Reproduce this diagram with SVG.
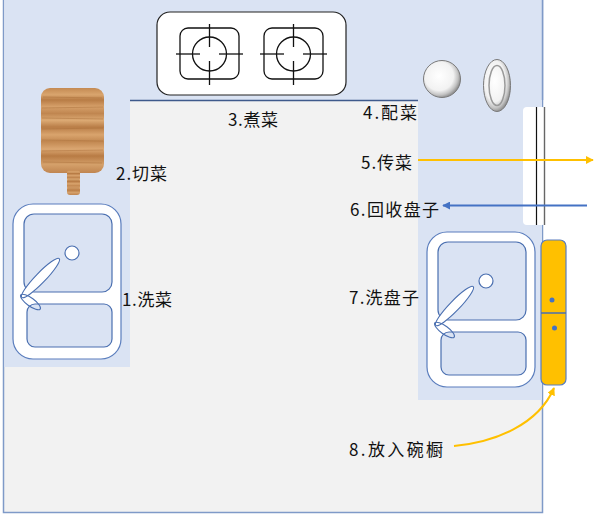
<svg xmlns="http://www.w3.org/2000/svg" width="600" height="527" viewBox="0 0 600 527">
<style>
.lbl{font-family:"Noto Sans CJK SC","Liberation Sans",sans-serif;font-size:17px;fill:#111}
.sinkout{fill:#fff;stroke:#5a7dbd;stroke-width:1.2}
.basin{fill:#dae3f3;stroke:#4a6fb0;stroke-width:1.2}
.burner{fill:none;stroke:#111;stroke-width:1.3}
</style>
<defs>
<linearGradient id="wood" x1="0" y1="0" x2="0" y2="1">
<stop offset="0" stop-color="#c48a52"/>
<stop offset="0.08" stop-color="#d9a56e"/>
<stop offset="0.14" stop-color="#b87c45"/>
<stop offset="0.22" stop-color="#d6a06a"/>
<stop offset="0.3" stop-color="#c08650"/>
<stop offset="0.38" stop-color="#dcaa74"/>
<stop offset="0.46" stop-color="#b97d47"/>
<stop offset="0.55" stop-color="#d9a46d"/>
<stop offset="0.63" stop-color="#c28851"/>
<stop offset="0.72" stop-color="#dba772"/>
<stop offset="0.8" stop-color="#b87b44"/>
<stop offset="0.9" stop-color="#d4a06a"/>
<stop offset="1" stop-color="#c08550"/>
</linearGradient>
<radialGradient id="plate" cx="0.42" cy="0.42" r="0.6">
<stop offset="0" stop-color="#ffffff"/>
<stop offset="0.65" stop-color="#f2f2f2"/>
<stop offset="0.85" stop-color="#c4c4c4"/>
<stop offset="1" stop-color="#8c8c8c"/>
</radialGradient>
<marker id="arrO" viewBox="0 0 10 10" refX="9" refY="5" markerWidth="4" markerHeight="4" orient="auto" markerUnits="strokeWidth">
<path d="M0,0 L10,5 L0,10 Z" fill="#ffc000"/>
</marker>
<marker id="arrB" viewBox="0 0 10 10" refX="9" refY="5" markerWidth="4" markerHeight="4" orient="auto" markerUnits="strokeWidth">
<path d="M0,0 L10,5 L0,10 Z" fill="#4472c4"/>
</marker>
<filter id="sh" x="-5%" y="-50%" width="110%" height="300%">
<feGaussianBlur stdDeviation="1.2"/>
</filter>
<g id="sink">
<rect class="sinkout" x="13" y="204" width="108" height="155" rx="20"/>
<rect class="basin" x="24" y="214" width="88" height="78" rx="10"/>
<rect class="basin" x="27" y="304" width="85" height="43" rx="8"/>
<circle cx="72" cy="253" r="7" fill="#fff" stroke="#4a6fb0" stroke-width="1.2"/>
<ellipse cx="40.5" cy="278" rx="27" ry="5" transform="rotate(-46 40.5 278)" fill="#fff" stroke="#4a6fb0" stroke-width="1.1"/>
<ellipse cx="30.5" cy="302" rx="12" ry="4" transform="rotate(36 30.5 302)" fill="none" stroke="#4a6fb0" stroke-width="1.1"/>
</g>
<g id="burner">
<rect class="burner" x="0" y="0" width="59" height="51" rx="8"/>
<circle class="burner" cx="29.5" cy="26" r="17"/>
<line class="burner" x1="-4" y1="26" x2="20" y2="26"/>
<line class="burner" x1="39" y1="26" x2="63" y2="26"/>
<line class="burner" x1="29.5" y1="-4" x2="29.5" y2="19"/>
<line class="burner" x1="29.5" y1="33" x2="29.5" y2="57"/>
</g>
</defs>

<g id="room">
<rect x="3.5" y="-2" width="539" height="514.5" fill="#f2f2f2" stroke="#7f9ac8" stroke-width="1.5"/>
<path d="M4.3,0 H542 V400 H418 V100 H130 V367 H4.3 Z" fill="#dae3f3"/>
<line x1="542.5" y1="0" x2="542.5" y2="100" stroke="#7f9ac8" stroke-width="1.5"/>
<line x1="130" y1="102.5" x2="418" y2="102.5" stroke="#7f8fa6" stroke-width="3" filter="url(#sh)"/>
<line x1="130" y1="100.5" x2="418" y2="100.5" stroke="#3f5a8c" stroke-width="1.5"/>
</g>

<g id="stove">
<rect x="157" y="12" width="189" height="83" rx="13" fill="#fff" stroke="#222" stroke-width="1.2"/>
<use href="#burner" x="180" y="28"/>
<use href="#burner" x="264" y="28"/>
</g>

<g id="plates">
<circle cx="442" cy="79" r="18.5" fill="url(#plate)" stroke="#7a7a7a" stroke-width="1"/>
<ellipse cx="497" cy="85.5" rx="13.5" ry="26" fill="url(#plate)" stroke="#7a7a7a" stroke-width="1"/>
<ellipse cx="497" cy="85.5" rx="8" ry="20" fill="none" stroke="#9a9a9a" stroke-width="1.5"/>
</g>

<g id="board">
<rect x="41" y="88" width="63" height="85" rx="9" fill="url(#wood)"/>
<rect x="67" y="170" width="13" height="25" rx="3" fill="url(#wood)"/>
<g stroke="#a66c38" stroke-width="0.6" opacity="0.7">
<line x1="43" y1="97" x2="102" y2="98"/>
<line x1="42" y1="108" x2="103" y2="107"/>
<line x1="42" y1="118" x2="103" y2="119"/>
<line x1="42" y1="129" x2="103" y2="128"/>
<line x1="42" y1="140" x2="103" y2="141"/>
<line x1="42" y1="151" x2="103" y2="150"/>
<line x1="43" y1="162" x2="102" y2="163"/>
<line x1="68" y1="180" x2="79" y2="180"/>
<line x1="68" y1="188" x2="79" y2="188"/>
</g>
</g>

<g id="sink1"><use href="#sink"/></g>
<g id="sink2"><use href="#sink" x="414" y="28"/></g>

<g id="window">
<rect x="523" y="107" width="23" height="118" rx="4" fill="#fff"/>
<line x1="536.5" y1="107" x2="536.5" y2="225" stroke="#111" stroke-width="1.2"/>
<line x1="544.5" y1="107" x2="544.5" y2="225" stroke="#666" stroke-width="1.4"/>
</g>

<g id="cupboard">
<rect x="541" y="240" width="25" height="145" rx="6" fill="#ffc000" stroke="#5a7dbd" stroke-width="1.2"/>
<line x1="541" y1="313" x2="566" y2="313" stroke="#4a6fb0" stroke-width="1.5"/>
<circle cx="552" cy="300" r="2.5" fill="#4472c4"/>
<circle cx="554.5" cy="328" r="2.5" fill="#4472c4"/>
</g>

<g id="connectors">
<line x1="418" y1="160" x2="593" y2="160" stroke="#ffc000" stroke-width="2" marker-end="url(#arrO)"/>
<line x1="587" y1="205.5" x2="443" y2="205.5" stroke="#4472c4" stroke-width="2" marker-end="url(#arrB)"/>
<path d="M454,446 C495,442 538,425 554,388" fill="none" stroke="#ffc000" stroke-width="2" marker-end="url(#arrO)"/>
</g>

<g id="labels">
<text class="lbl" x="122" y="306" textLength="50" lengthAdjust="spacing">1.洗菜</text>
<text class="lbl" x="116" y="180" textLength="51" lengthAdjust="spacing">2.切菜</text>
<text class="lbl" x="228" y="126" textLength="50" lengthAdjust="spacing">3.煮菜</text>
<text class="lbl" x="363" y="119" textLength="54" lengthAdjust="spacing">4.配菜</text>
<text class="lbl" x="361" y="169" textLength="51" lengthAdjust="spacing">5.传菜</text>
<text class="lbl" x="350" y="216" textLength="89" lengthAdjust="spacing">6.回收盘子</text>
<text class="lbl" x="349" y="304" textLength="70" lengthAdjust="spacing">7.洗盘子</text>
<text class="lbl" x="349" y="456" textLength="94" lengthAdjust="spacing">8.放入碗橱</text>
</g>
</svg>
